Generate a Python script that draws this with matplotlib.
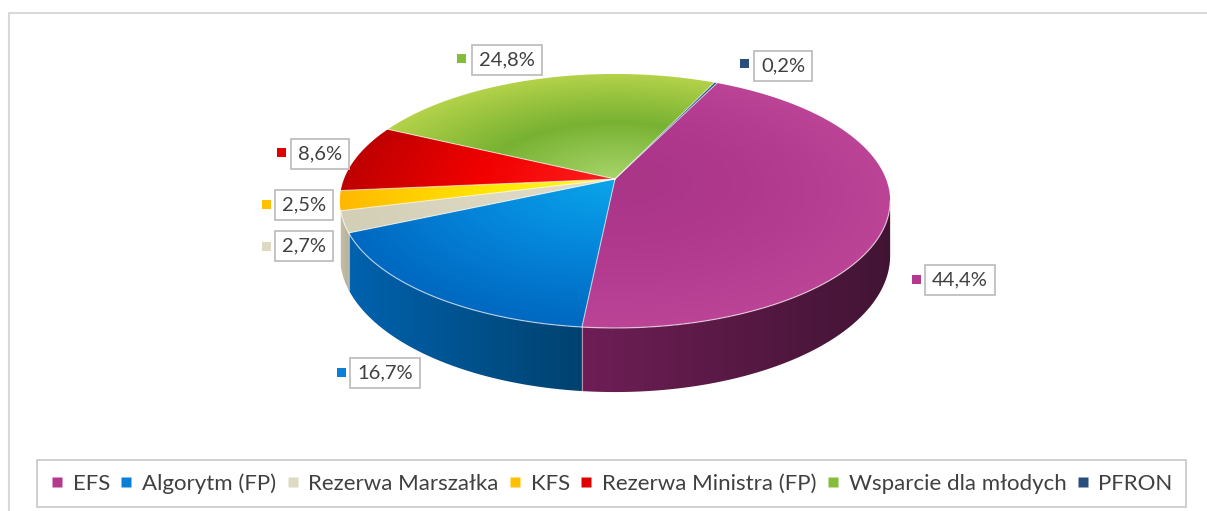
import numpy as np
import matplotlib
matplotlib.use("Agg")
import matplotlib.pyplot as plt
from matplotlib.patches import Polygon, Rectangle
from matplotlib.lines import Line2D
from matplotlib.colors import to_rgb

plt.rcParams['font.family'] = ['Lato', 'DejaVu Sans']

# data: share of funds by source (%)
categories = ['EFS', 'Algorytm (FP)', 'Rezerwa Marszałka', 'KFS',
              'Rezerwa Ministra (FP)', 'Wsparcie dla młodych', 'PFRON']
shares = [44.4, 16.7, 2.7, 2.5, 8.6, 24.8, 0.2]
value_labels = ['44,4%', '16,7%', '2,7%', '2,5%', '8,6%', '24,8%', '0,2%']

# colours: legend / top face gradient stops (centre -> rim) / side wall (left -> right)
legend_colors = ['#B5388F', '#0A7FD8', '#DDD9C3', '#FFC000', '#E00000', '#84BD3A', '#2A4E7C']
top_stops = [['#A93687', '#B0388D', '#BC4497'],
             ['#0AA6EA', '#0588DC', '#0068C0'],
             ['#E2DECB', '#DBD7C1', '#D3CFB6'],
             ['#FFFF30', '#FFE400', '#FFB800'],
             ['#FF2020', '#F20000', '#BE0000'],
             ['#A6D46A', '#78B232', '#B4D24A'],
             ['#1F497D', '#1F497D', '#1F497D']]
side_cols = [('#6E1E55', '#421434'),
             ('#0062AE', '#00426F'),
             ('#C4BFA5', '#B6B198'),
             ('#E8A800', '#D89800'),
             ('#B00000', '#A00000'),
             ('#6A9A2A', '#6A9A2A'),
             ('#1A3A66', '#1A3A66')]

# layout (pixels)
W, H = 1207, 511
cx, cy = 615, 179          # apex of the pie
A, B, e = 271, 123.2, 0.173  # perspective ellipse
depth = 53
start = 25.8               # first slice starts here (degrees, clockwise from back)
side_range = (100, 255.5)  # part of the wall facing the viewer
label_xy = [(960, 280), (385, 373), (304, 246), (304, 205), (320, 154), (507, 60), (783, 66)]
square_xy = [(916, 280), (341, 373), (266, 247), (266, 205), (281, 153), (461, 59), (744, 64)]


def rim(phi_deg):
    p = np.radians(phi_deg)
    u = -np.cos(p)
    v = np.sin(p)
    s = 1.0 / (1 - e * u)
    return cx + A * v * s, cy + B * u * s, s


fig = plt.figure(figsize=(W / 100, H / 100), dpi=100)
ax = fig.add_axes([0, 0, 1, 1])
ax.set_xlim(0, W)
ax.set_ylim(H, 0)
ax.axis('off')

# outer chart border
ax.plot([9, 9, W + 5], [H + 5, 13, 13], color='#D9D9D9', lw=1.5, zorder=0)

# normalised radius of every pixel on the top face
gx, gy = np.meshgrid(np.arange(W) + 0.5, np.arange(H) + 0.5)
yp = (gy - cy) / B
uu = yp / (1 + e * yp)
vv = (gx - cx) / A * (1 - e * uu)
rr = np.clip(np.sqrt(uu ** 2 + vv ** 2), 0, 1)

bounds = start + 360 * np.cumsum([0] + shares) / sum(shares)

for i in range(len(shares)):
    a0, a1 = bounds[i], bounds[i + 1]
    # side wall
    lo, hi = max(a0, side_range[0]), min(a1, side_range[1])
    if hi > lo:
        steps = np.linspace(lo, hi, 120)
        top_pts = [rim(p) for p in steps]
        pts = [(x, y) for x, y, s in top_pts] + [(x, y + depth * s) for x, y, s in top_pts[::-1]]
        wall = Polygon(pts, closed=True, facecolor='none', edgecolor='none')
        ax.add_patch(wall)
        xs = [p[0] for p in pts]
        xl, xr = min(xs), max(xs)
        t = np.clip((gx - xl) / max(xr - xl, 1), 0, 1)
        cl = np.array(to_rgb(side_cols[i][0]))
        cr = np.array(to_rgb(side_cols[i][1]))
        img = np.dstack([cl[ch] * (1 - t) + cr[ch] * t for ch in range(3)])
        im = ax.imshow(img, extent=(0, W, H, 0), zorder=1, interpolation='bilinear')
        im.set_clip_path(wall)
    # top face with gradient
    arc = np.linspace(a0, a1, max(int((a1 - a0) * 2), 3))
    pts = [(cx, cy)] + [rim(p)[:2] for p in arc]
    poly = Polygon(pts, closed=True, facecolor='none', edgecolor='none')
    ax.add_patch(poly)
    stops = np.array([to_rgb(c) for c in top_stops[i]])
    img = np.dstack([np.interp(rr, [0, 0.5, 1], stops[:, ch]) for ch in range(3)])
    im = ax.imshow(img, extent=(0, W, H, 0), zorder=2, interpolation='bilinear')
    im.set_clip_path(poly)

# light edges between slices and along the front rim
for b in bounds[:-1]:
    x1, y1, s1 = rim(b)
    ax.plot([cx, x1], [cy, y1], color='white', lw=0.8, alpha=0.6, zorder=3)
    if side_range[0] < b % 360 < side_range[1]:
        ax.plot([x1, x1], [y1, y1 + depth * s1], color='white', lw=0.8, alpha=0.5, zorder=3)
front = np.linspace(side_range[0], side_range[1], 200)
fr = np.array([rim(p)[:2] for p in front])
ax.plot(fr[:, 0], fr[:, 1], color='white', lw=0.9, alpha=0.6, zorder=3)

# data labels
for i in range(len(shares)):
    lx, ly = label_xy[i]
    ax.text(lx, ly, value_labels[i], fontsize=14.5, color='#404040', ha='center', va='center',
            zorder=5, bbox=dict(boxstyle='square,pad=0.34', facecolor='white',
                                edgecolor='#BFBFBF', lw=1.3))
    sx, sy = square_xy[i]
    ax.add_patch(Rectangle((sx - 4.5, sy - 4.5), 9, 9, facecolor=legend_colors[i],
                           edgecolor='none', zorder=5))

# legend
handles = [Line2D([], [], marker='s', linestyle='none', markersize=7,
                  markerfacecolor=c, markeredgecolor='none') for c in legend_colors]
leg = ax.legend(handles, categories, ncol=7, loc='center', mode='expand',
                bbox_to_anchor=(37 / W, 1 - 508 / H, 1149 / W, 49 / H),
                bbox_transform=ax.transAxes, fontsize=16, frameon=True, fancybox=False,
                handlelength=0.6, handletextpad=0.4, columnspacing=0.8, borderpad=0.6,
                borderaxespad=0, labelcolor='#404040')
leg.get_frame().set_edgecolor('#BFBFBF')
leg.get_frame().set_linewidth(1.3)

fig.savefig('out.png', dpi=100)
